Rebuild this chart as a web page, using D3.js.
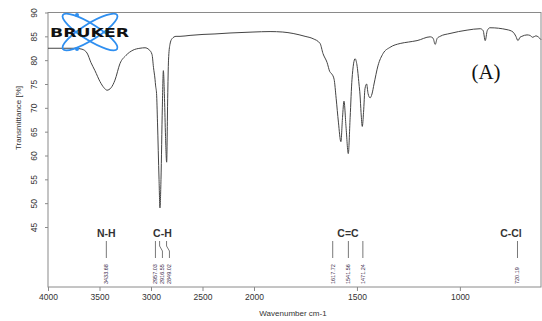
<!DOCTYPE html>
<html>
<head>
<meta charset="utf-8">
<script src="https://cdn.jsdelivr.net/npm/d3@7"></script>
<style>
  body { margin: 0; background: #fff; }
  svg { display: block; font-family: Arial, "Liberation Sans", sans-serif; }
  .axis text { fill: #333; font-size: 8.5px; }
  .axis path, .axis line { stroke: #8a8a8a; }
</style>
</head>
<body>
<div id="chart"></div>
<script>
// Spectrum (wavenumber cm-1, transmittance %)
const wavenumbers = [4000, 3738, 3670, 3621, 3583, 3544, 3495, 3456, 3427, 3388, 3350, 3301, 3243, 3175,
  3107, 3058, 3019, 2990, 2976, 2961, 2955, 2946, 2937, 2922, 2913, 2903, 2890, 2880, 2869, 2859, 2848,
  2838, 2830, 2816, 2796, 2757, 2718, 2621, 2495, 2379, 2233, 2010, 1922, 1860, 1810, 1752, 1713,
  1679, 1665, 1645, 1632, 1622, 1611, 1601, 1590, 1578, 1570, 1563, 1553, 1542, 1533, 1524, 1509,
  1500, 1490, 1485, 1480, 1474, 1468, 1461, 1453, 1446, 1436, 1427, 1417, 1398, 1373, 1339, 1290,
  1250, 1208, 1144, 1130, 1120, 1110, 1096, 1048, 965, 901, 887, 877, 867, 854, 771, 742, 728, 718,
  708, 699, 674, 660, 646, 631, 606];
const transmittance = [82.5, 82.5, 82.3, 81.5, 79.5, 77.8, 75.5, 74.2, 73.7, 74.2, 75.8, 79.3, 81.0, 82.1,
  82.5, 82.6, 82.2, 81.2, 78.5, 76.0, 74.6, 73.0, 67.0, 55.0, 49.0, 55.0, 70.0, 77.8, 72.0, 64.0, 58.6,
  72.0, 80.0, 83.3, 84.5, 85.0, 85.0, 85.2, 85.4, 85.5, 85.7, 85.9, 86.0, 85.9, 85.6, 85.0, 84.5,
  83.5, 81.4, 79.5, 77.6, 77.1, 76.0, 72.0, 67.0, 62.9, 68.0, 71.4, 66.0, 60.4, 68.0, 76.0, 80.3,
  79.0, 75.0, 72.7, 69.0, 66.1, 69.0, 74.0, 75.0, 73.0, 72.1, 72.9, 75.0, 78.8, 81.4, 82.7, 83.5,
  83.8, 84.1, 84.9, 84.6, 83.3, 84.6, 85.0, 85.6, 86.3, 86.6, 86.2, 84.1, 86.2, 86.8, 86.4, 85.9,
  85.0, 84.1, 84.8, 85.0, 85.3, 85.2, 84.8, 85.1, 84.3];

// Peak picks and band groups
const peaks = [3433.68, 2957.03, 2916.55, 2849.02, 1617.72, 1541.56, 1471.24, 720.19];
const peakLabels = ['3433.68', '2957.03', '2916.55', '2849.02', '1617.72', '1541.56', '1471.24', '720.19'];
const groupNames = ['N-H', 'C-H', 'C=C', 'C-Cl'];
const peakGroup = [0, 1, 1, 1, 2, 2, 2, 3];

const xTicks = [4000, 3500, 3000, 2500, 2000, 1500, 1000];
const yTicks = [45, 50, 55, 60, 65, 70, 75, 80, 85, 90];

const W = 542, H = 321;
const mLeft = 48, mRight = 541, mTop = 12.5, mBottom = 287;

const svg = d3.select('#chart').append('svg').attr('width', W).attr('height', H);

// OPUS-style axis: scale change at 2000 cm-1
const x = d3.scaleLinear().domain([4000, 2000, 606]).range([mLeft, 254, mRight]);
const y = d3.scaleLinear().domain([90, 45]).range([mTop, 227]);

// frame
svg.append('rect')
  .attr('x', mLeft).attr('y', mTop)
  .attr('width', mRight - mLeft).attr('height', mBottom - mTop)
  .attr('fill', 'none').attr('stroke', '#8a8a8a');

svg.append('g')
  .attr('class', 'axis')
  .attr('transform', `translate(0,${mBottom})`)
  .call(d3.axisBottom(x).tickValues(xTicks).tickSize(4).tickPadding(3).tickFormat(d3.format('d')))
  .call(g => g.select('.domain').remove());

const ya = svg.append('g')
  .attr('class', 'axis')
  .attr('transform', `translate(${mLeft},0)`)
  .call(d3.axisLeft(y).tickValues(yTicks).tickSize(3).tickFormat(d3.format('d')))
  .call(g => g.select('.domain').remove());
ya.selectAll('.tick text')
  .attr('dy', '0.32em').attr('text-anchor', 'middle')
  .attr('transform', 'rotate(-90)')
  .attr('x', 0).attr('y', -14);

// axis titles
svg.append('text')
  .attr('x', 293).attr('y', 316)
  .attr('text-anchor', 'middle').attr('font-size', 8).attr('fill', '#333')
  .text('Wavenumber cm-1');
svg.append('text')
  .attr('transform', 'translate(21,118) rotate(-90)')
  .attr('text-anchor', 'middle').attr('font-size', 8).attr('fill', '#333')
  .text('Transmittance [%]');

// spectrum
const pts = wavenumbers.map((w, i) => [w, transmittance[i]]);
svg.append('path')
  .datum(pts)
  .attr('fill', 'none')
  .attr('stroke', '#444')
  .attr('stroke-width', 1)
  .attr('d', d3.line().x(d => x(d[0])).y(d => y(d[1])).curve(d3.curveMonotoneX));

// peak annotations: spread labels that sit too close
const px = peaks.map(p => x(p));
const lx = px.slice();
for (let i = 1; i < lx.length; i++) {
  if (peakGroup[i] === peakGroup[i - 1] && lx[i] - lx[i - 1] < 7) lx[i] = lx[i - 1] + 7;
}

const ann = svg.append('g');
peaks.forEach((p, i) => {
  ann.append('path')
    .attr('d', `M${px[i]},241 L${px[i]},246 L${lx[i]},251 L${lx[i]},258`)
    .attr('fill', 'none').attr('stroke', '#555').attr('stroke-width', 0.8);
  ann.append('text')
    .attr('transform', `translate(${lx[i] + 2},284) rotate(-90)`)
    .attr('font-size', 5.5).attr('fill', '#3a2a4a')
    .text(peakLabels[i]);
});

groupNames.forEach((name, g) => {
  const xs = lx.filter((v, i) => peakGroup[i] === g);
  const cx = Math.min(d3.mean(xs), mRight - 30);
  ann.append('text')
    .attr('x', cx).attr('y', 237)
    .attr('text-anchor', 'middle')
    .attr('font-size', 10.5).attr('font-weight', 'bold').attr('fill', '#333')
    .text(name);
});

// panel tag
svg.append('text')
  .attr('x', 486).attr('y', 79)
  .attr('text-anchor', 'middle')
  .attr('font-family', '"Liberation Serif", "Times New Roman", serif')
  .attr('font-size', 21).attr('fill', '#111')
  .text('(A)');

// BRUKER logo
const logo = svg.append('g').attr('transform', 'translate(90,32)');
[-32, 32].forEach(a => {
  logo.append('ellipse')
    .attr('rx', 32).attr('ry', 8)
    .attr('transform', `rotate(${a})`)
    .attr('fill', 'none').attr('stroke', '#2f8ff0').attr('stroke-width', 1.8);
});
logo.append('circle').attr('cx', -13).attr('cy', -17).attr('r', 2).attr('fill', '#2f8ff0');
logo.append('circle').attr('cx', -13).attr('cy', 17).attr('r', 2).attr('fill', '#2f8ff0');
logo.append('text')
  .attr('x', -40).attr('y', 4.5)
  .attr('font-family', '"DejaVu Sans", sans-serif')
  .attr('font-weight', 'bold').attr('font-size', 12)
  .attr('textLength', 79).attr('lengthAdjust', 'spacingAndGlyphs')
  .attr('fill', '#111')
  .text('BRUKER');
</script>
</body>
</html>
